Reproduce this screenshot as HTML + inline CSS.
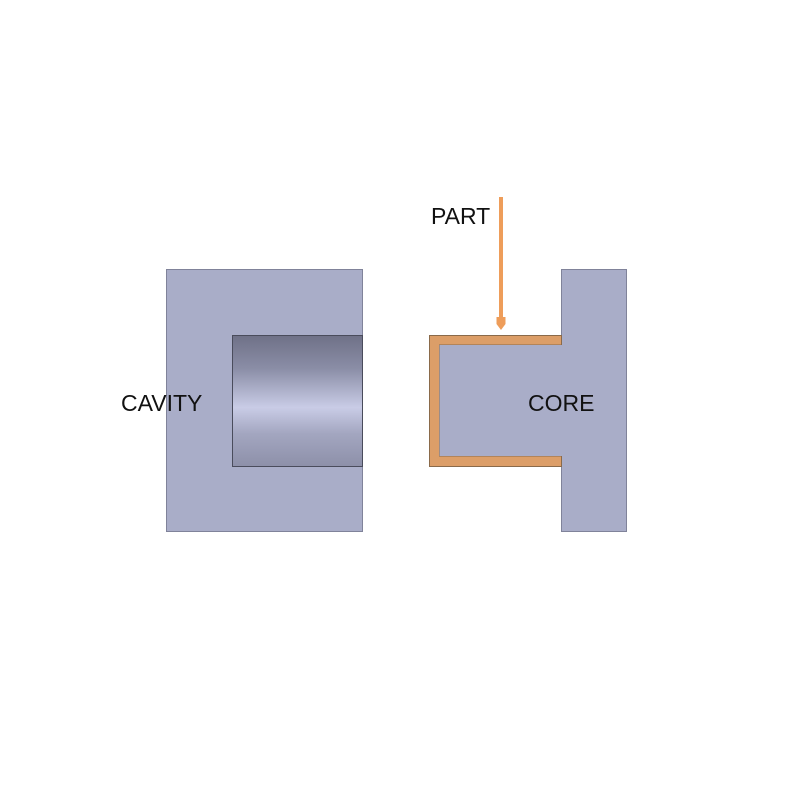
<!DOCTYPE html>
<html><head><meta charset="utf-8"><style>
html,body{margin:0;padding:0;background:#fff;}
svg{display:block;}
text{font-family:"Liberation Sans",sans-serif;font-size:23px;fill:#111;}
</style></head><body>
<svg width="800" height="800" viewBox="0 0 800 800" xmlns="http://www.w3.org/2000/svg">
<defs>
<linearGradient id="cyl" x1="0" y1="0" x2="0" y2="1">
<stop offset="0" stop-color="#6f7187"/>
<stop offset="0.25" stop-color="#8a8da6"/>
<stop offset="0.55" stop-color="#c9cce6"/>
<stop offset="0.75" stop-color="#a3a6c0"/>
<stop offset="1" stop-color="#8d90a9"/>
</linearGradient>
</defs>
<!-- cavity -->
<rect x="166.5" y="269.5" width="196" height="262" fill="#a9adc8" stroke="#80839a" stroke-width="1"/>
<rect x="232.5" y="335.5" width="130" height="131" fill="url(#cyl)" stroke="#4a4c5c" stroke-width="1"/>
<text x="121" y="411">CAVITY</text>
<!-- core -->
<rect x="561.5" y="269.5" width="65" height="262" fill="#a9adc8" stroke="#80839a" stroke-width="1"/>
<path d="M429.5 335.5 H561.5 V345 H439.5 V456 H561.5 V466.5 H429.5 Z" fill="#dc9e68" stroke="#8a6a4a" stroke-width="1"/>
<rect x="439.5" y="345" width="122.5" height="111" fill="#a9adc8"/>
<rect x="555" y="346" width="12" height="109" fill="#a9adc8"/>
<text x="528" y="411">CORE</text>
<!-- arrow -->
<rect x="499" y="197" width="4" height="122" fill="#ee9d5a"/>
<path d="M496.5 317 H505.5 V324 L501 330 L496.5 324 Z" fill="#ee9d5a"/>
<text x="431" y="224">PART</text>
</svg>
</body></html>
